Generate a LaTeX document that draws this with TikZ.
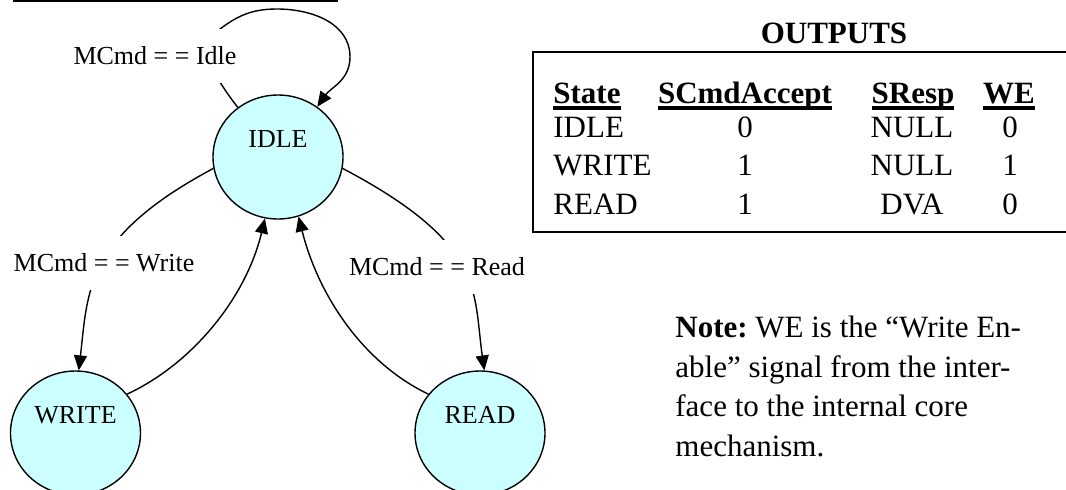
\documentclass[tikz,border=0pt]{standalone}
\usepackage{fontspec}
\setmainfont{Liberation Serif}
\usetikzlibrary{arrows.meta,shapes.geometric}
\definecolor{stfill}{RGB}{204,255,255}
\newcommand\hdrline[1]{\setbox0\hbox{\bfseries #1}\rlap{\vrule height -1.5pt depth 3.5pt width \wd0}\box0}
\frenchspacing

\begin{document}
\begin{tikzpicture}[x=0.5pt,y=-0.5pt,
    state/.style={ellipse,draw,line width=0.7pt,fill=stfill,minimum width=65pt,minimum height=62pt,
      inner sep=0pt,font=\fontsize{13}{15}\selectfont,text height=9pt,text depth=18.4pt},
    trans/.style={line width=0.7pt,-{Triangle[length=7.5pt,width=6.5pt]}},
    cond/.style={fill=white,inner xsep=1pt,inner ysep=9pt,font=\fontsize{13}{15}\selectfont},
    cell/.style={anchor=base,inner sep=0pt,font=\fontsize{15.5}{18}\selectfont}]
  \useasboundingbox (0,0) rectangle (1066,489);
  \clip (0,0) rectangle (1066,489);

  \draw[line width=0.8pt] (13,1) -- (338,1);

  % states
  \node[state] (idle) at (278,157) {IDLE};
  \node[state] (write) at (75.5,433) {WRITE};
  \node[state] (read) at (480,433) {READ};

  % transitions
  \draw[trans] (idle.129) to[out=128,in=217] (220,29) to[out=37,in=180] (277,9)
     to[out=0,in=90] (350,57) to[out=-90,in=55] (idle.52);
  \draw[trans] (idle.190) .. controls (85,237) and (88,290) .. (write.87);
  \draw[trans] (idle.-10) .. controls (486,244) and (473,291) .. (read.86);
  \draw[trans] (write.37) .. controls (192,364) and (246,298) .. (idle.258);
  \draw[trans] (read.143) .. controls (365,364) and (319,298) .. (idle.289);

  \node[cond] (lidle) at (155,56) {MCmd = = Idle};
  \node[cond] (lwrite) at (104,263) {MCmd = = Write};
  \node[cond] (lread) at (437,267) {MCmd = = Read};

  % output table
  \node[font=\bfseries\fontsize{15.5}{18}\selectfont] (outhead) at (834,33) {OUTPUTS};
  \draw[line width=0.7pt] (533,52) rectangle (1072,232);
  \node[cell,anchor=base west] (hstate) at (553,103) {\hdrline{State}};
  \node[cell] (hacc) at (745,103) {\hdrline{SCmdAccept}};
  \node[cell] (hresp) at (913,103) {\hdrline{SResp}};
  \node[cell] (hwe) at (1009,103) {\hdrline{WE}};
  \foreach \st/\acc/\resp/\we/\y in {IDLE/0/NULL/0/137, WRITE/1/NULL/1/175, READ/1/DVA/0/214} {
    \node[cell,anchor=base west] (st-\st) at (553,\y) {\st};
    \node[cell] (acc-\st) at (745,\y) {\acc};
    \node[cell] (resp-\st) at (912,\y) {\resp};
    \node[cell] (we-\st) at (1010,\y) {\we};
  }

  % note
  \node[anchor=base west,align=left,inner sep=0pt,font=\fontsize{15.5}{19.75}\selectfont] (note) at (675,456)
    {\textbf{Note:} WE is the “Write En-\\able” signal from the inter-\\face to the internal core\\mechanism.};
\end{tikzpicture}
\end{document}
